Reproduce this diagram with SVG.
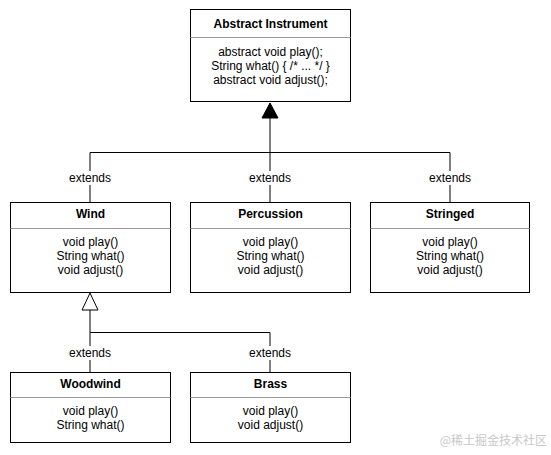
<svg xmlns="http://www.w3.org/2000/svg" width="551" height="455" viewBox="0 0 551 455">
<style>
.box{fill:#fff;stroke:#000;stroke-width:1}
.div{stroke:#999;stroke-width:1}
.t{font-family:"Liberation Sans",Arial,sans-serif;font-size:12px;font-weight:bold;text-anchor:middle;fill:#000}
.m{font-family:"Liberation Sans",Arial,sans-serif;font-size:12px;text-anchor:middle;fill:#000}
.l{font-family:"Liberation Sans",Arial,sans-serif;font-size:12px;text-anchor:middle;fill:#000}
.c{fill:none;stroke:#000;stroke-width:1}
</style>
<rect width="551" height="455" fill="#fff"/>
<g id="connectors">
<path class="c" d="M270 118 V152.5 M90 202 V152.5 H450 V202 M270 152.5 V202"/>
<polygon points="270,103 262,118 278,118" fill="#000" stroke="#000"/>
<path class="c" d="M90 310 V332.5 H270 V372 M90 332.5 V372"/>
<polygon points="90,293 82,310 98,310" fill="#fff" stroke="#000"/>
<g>
<rect x="66" y="171" width="48" height="14" fill="#fff"/>
<text class="l" x="90" y="182">extends</text>
<rect x="246" y="171" width="48" height="14" fill="#fff"/>
<text class="l" x="270" y="182">extends</text>
<rect x="426" y="171" width="48" height="14" fill="#fff"/>
<text class="l" x="450" y="182">extends</text>
<rect x="66" y="346" width="48" height="14" fill="#fff"/>
<text class="l" x="90" y="357">extends</text>
<rect x="246" y="346" width="48" height="14" fill="#fff"/>
<text class="l" x="270" y="357">extends</text>
</g>
</g>
<g id="instrument">
<rect class="box" x="190.5" y="9.5" width="160" height="92"/>
<line class="div" x1="190.5" y1="37.5" x2="350.5" y2="37.5"/>
<text class="t" x="270.5" y="28">Abstract Instrument</text>
<text class="m" x="270.5" y="56">abstract void play();</text>
<text class="m" x="270.5" y="70">String what() { /* ... */ }</text>
<text class="m" x="270.5" y="84">abstract void adjust();</text>
</g>
<g id="wind">
<rect class="box" x="10.5" y="202.5" width="160" height="90"/>
<line class="div" x1="10.5" y1="228.5" x2="170.5" y2="228.5"/>
<text class="t" x="90.5" y="218">Wind</text>
<text class="m" x="90.5" y="246">void play()</text>
<text class="m" x="90.5" y="260">String what()</text>
<text class="m" x="90.5" y="274">void adjust()</text>
</g>
<g id="percussion">
<rect class="box" x="190.5" y="202.5" width="160" height="90"/>
<line class="div" x1="190.5" y1="228.5" x2="350.5" y2="228.5"/>
<text class="t" x="270.5" y="218">Percussion</text>
<text class="m" x="270.5" y="246">void play()</text>
<text class="m" x="270.5" y="260">String what()</text>
<text class="m" x="270.5" y="274">void adjust()</text>
</g>
<g id="stringed">
<rect class="box" x="370.5" y="202.5" width="159" height="90"/>
<line class="div" x1="370.5" y1="228.5" x2="529.5" y2="228.5"/>
<text class="t" x="450" y="218">Stringed</text>
<text class="m" x="450" y="246">void play()</text>
<text class="m" x="450" y="260">String what()</text>
<text class="m" x="450" y="274">void adjust()</text>
</g>
<g id="woodwind">
<rect class="box" x="10.5" y="372.5" width="160" height="70"/>
<line class="div" x1="10.5" y1="397.5" x2="170.5" y2="397.5"/>
<text class="t" x="90.5" y="388">Woodwind</text>
<text class="m" x="90.5" y="415">void play()</text>
<text class="m" x="90.5" y="429">String what()</text>
</g>
<g id="brass">
<rect class="box" x="190.5" y="372.5" width="160" height="70"/>
<line class="div" x1="190.5" y1="397.5" x2="350.5" y2="397.5"/>
<text class="t" x="270.5" y="388">Brass</text>
<text class="m" x="270.5" y="415">void play()</text>
<text class="m" x="270.5" y="429">void adjust()</text>
</g>
<text x="547" y="445" font-family="'Noto Sans CJK SC',sans-serif" font-size="12" fill="#c8c8c8" text-anchor="end">@稀土掘金技术社区</text>
</svg>
